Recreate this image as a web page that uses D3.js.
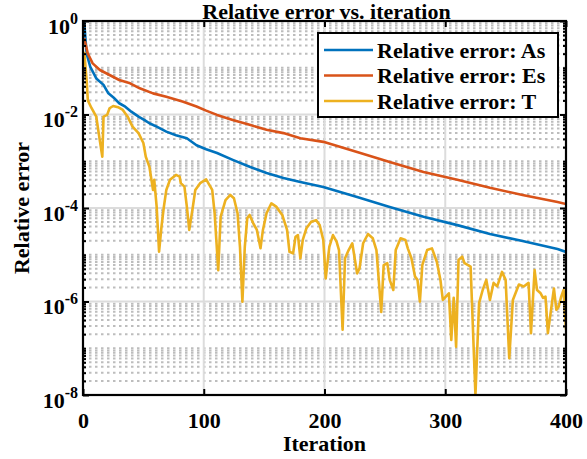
<!DOCTYPE html>
<html>
<head>
<meta charset="utf-8">
<script src="https://cdn.jsdelivr.net/npm/d3@7"></script>
<style>
  body { margin: 0; background: #fff; }
  svg { display: block; }
  text { font-family: "Liberation Serif", "Times New Roman", Times, serif; font-weight: bold; fill: #000; }
</style>
</head>
<body>
<svg id="chart" width="587" height="459"></svg>
<script>
// Relative error of each quantity over the iterations
const iterAs = [1, 3, 6, 11, 17, 21, 26, 30, 35, 40, 46, 51, 55, 61, 69, 77, 86, 94, 102, 111, 124, 138, 152, 166, 180, 199, 227, 254, 282, 310, 337, 364, 393, 400];
const valAs  = [0.95, 0.20, 0.105, 0.059, 0.043, 0.0284, 0.0222, 0.0174, 0.0147, 0.0115, 0.0090, 0.0076, 0.0065, 0.0055, 0.0043, 0.0036, 0.0031, 0.0022, 0.0018, 0.0015, 0.00107, 0.00076, 0.00056, 0.00044, 0.00036, 0.00028, 0.000172, 0.000105, 0.000065, 0.000043, 0.0000278, 0.0000197, 0.0000133, 0.0000115];

const iterEs = [1, 4, 8, 14, 22, 30, 39, 47, 58, 69, 83, 94, 102, 111, 124, 138, 152, 166, 180, 199, 227, 254, 282, 310, 337, 364, 393, 400];
const valEs  = [0.43, 0.20, 0.124, 0.0895, 0.070, 0.0547, 0.0465, 0.0363, 0.0283, 0.024, 0.0188, 0.0148, 0.0121, 0.0098, 0.0076, 0.0060, 0.0047, 0.0040, 0.0031, 0.0026, 0.00158, 0.00096, 0.00059, 0.00040, 0.00027, 0.00019, 0.000134, 0.000122];

const iterT = [1, 3, 4, 7, 11, 13, 16, 17, 20, 22, 25, 29, 33, 37, 41, 46, 50, 52, 55, 58, 59, 61, 63, 65, 67, 69, 72, 77, 80, 81, 84, 86, 88, 91, 93, 97,
  102, 107, 109, 112, 114, 118, 122, 125, 128, 130, 132, 134, 136, 138, 141, 144, 147, 149, 152, 156, 160, 165, 169, 171, 174, 176, 178, 180, 182, 185, 189, 193, 196, 199,
  201, 204, 207, 210, 212, 215, 217, 220, 223, 227, 229, 232, 236, 240, 243, 247, 249, 252, 254, 257, 259, 263, 267, 269, 272, 275, 277, 279, 281, 285, 289, 293, 296, 298,
  303, 305, 307, 309, 311, 314, 316, 321, 325, 328, 331, 334, 337, 340, 343, 347, 350, 353, 356, 361, 365, 369, 371, 374, 376, 379, 381, 383, 385, 390, 392, 394, 396, 398, 400];
const valT = [0.22, 0.055, 0.020, 0.0138, 0.0090, 0.0040, 0.00125, 0.0090, 0.0098, 0.0136, 0.0152, 0.0143, 0.0125, 0.0090, 0.0055, 0.0040, 0.00246, 0.00125, 0.00076, 0.000243,
  0.00040, 0.000107, 0.0000116, 0.000040, 0.000107, 0.000243, 0.00040, 0.00051, 0.00047, 0.00034, 0.000286, 0.000107, 0.000034, 0.000107, 0.000243, 0.00034,
  0.00041, 0.000243, 0.000078, 0.0000047, 0.000065, 0.000148, 0.00019, 0.000162, 0.000077, 0.0000148, 0.00000099, 0.0000148, 0.000060, 0.000071, 0.0000471, 0.000034,
  0.0000138, 0.000034, 0.000077, 0.000126, 0.000107, 0.000071, 0.000034, 0.0000116, 0.0000107, 0.0000243, 0.0000264, 0.0000084, 0.0000207, 0.0000368, 0.000051, 0.000055,
  0.0000433, 0.0000207, 0.0000031, 0.0000148, 0.0000264, 0.000019, 0.0000126, 0.00000025, 0.0000084, 0.0000126, 0.0000176, 0.000004, 0.0000051, 0.0000176, 0.0000278,
  0.0000225, 0.0000126, 0.0000006, 0.000006, 0.0000066, 0.0000029, 0.00000176, 0.0000126, 0.0000225, 0.0000207, 0.0000137, 0.0000084, 0.0000034, 0.0000029, 0.00000099,
  0.000006, 0.0000126, 0.0000137, 0.0000071, 0.0000029, 0.00000108, 0.0000015, 0.00000015, 0.0000012, 0.000000108, 0.0000077, 0.0000091, 0.0000066, 0.0000056, 1e-8,
  0.00000092, 0.00000176, 0.0000029, 0.00000108, 0.0000025, 0.0000021, 0.0000043, 0.0000029, 0.000000061, 0.00000108, 0.0000023, 0.0000021, 0.0000025, 0.00000021,
  0.0000047, 0.00000176, 0.0000015, 0.0000012, 0.00000127, 0.00000021, 0.0000019, 0.00000066, 0.00000078, 0.00000127, 0.00000176, 0.00000025];

const seriesNames = ["Relative error: As", "Relative error: Es", "Relative error: T"];
const seriesColors = ["#0072BD", "#D95319", "#EDB120"];

const xTicks = [0, 100, 200, 300, 400];
const yTickExponents = [0, -2, -4, -6, -8];

const titleText = "Relative error vs. iteration";
const xLabelText = "Iteration";
const yLabelText = "Relative error";

// ---- layout ----
const svg = d3.select("#chart");
const L = 83, R = 566, T = 21, B = 395;
const FS = 22;

const x = d3.scaleLinear().domain([0, 400]).range([L, R]);
const y = d3.scaleLog().domain([1e-8, 1]).range([B, T]);

const yMajor = yTickExponents.map(e => Math.pow(10, e));
const yMinor = [];
for (let e = -8; e < 0; e++) {
  for (let k = 1; k <= 9; k++) {
    const v = k * Math.pow(10, e);
    if (!(k === 1 && yTickExponents.includes(e))) yMinor.push(v);
  }
}

// ---- grid ----
const grid = svg.append("g");
grid.selectAll(".ymin").data(yMinor).join("line")
  .attr("x1", L).attr("x2", R)
  .attr("y1", d => y(d)).attr("y2", d => y(d))
  .attr("stroke", "#bdbdbd").attr("stroke-width", 2)
  .attr("stroke-dasharray", "2.5,3.5");
grid.selectAll(".xmaj").data(xTicks.slice(1, -1)).join("line")
  .attr("x1", d => x(d)).attr("x2", d => x(d))
  .attr("y1", T).attr("y2", B)
  .attr("stroke", "#dcdcdc").attr("stroke-width", 2);
grid.selectAll(".ymaj").data(yMajor.slice(1, -1)).join("line")
  .attr("x1", L).attr("x2", R)
  .attr("y1", d => y(d)).attr("y2", d => y(d))
  .attr("stroke", "#dcdcdc").attr("stroke-width", 2);

// ---- data lines ----
svg.append("clipPath").attr("id", "plotClip")
  .append("rect").attr("x", L).attr("y", T - 1).attr("width", R - L).attr("height", B - T + 2);

const line = d3.line().x(d => x(d[0])).y(d => y(d[1]));
const series = [
  d3.zip(iterAs, valAs),
  d3.zip(iterEs, valEs),
  d3.zip(iterT, valT)
];
const lines = svg.append("g").attr("clip-path", "url(#plotClip)");
series.forEach((s, i) => {
  lines.append("path").datum(s)
    .attr("d", line)
    .attr("fill", "none")
    .attr("stroke", seriesColors[i])
    .attr("stroke-width", 2.6)
    .attr("stroke-linejoin", "round");
});

// ---- axes ----
function styleAxis(g) {
  g.select(".domain").remove();
  g.selectAll(".tick line").attr("stroke", "#000").attr("stroke-width", 2);
}

// bottom with labels
const gx = svg.append("g").attr("transform", `translate(0,${B})`)
  .call(d3.axisBottom(x).tickValues(xTicks).tickSize(-6).tickFormat(d3.format("d")));
styleAxis(gx);
gx.selectAll(".tick text")
  .attr("y", 33).attr("dy", null)
  .style("font-size", FS + "px");

// top
const gxTop = svg.append("g").attr("transform", `translate(0,${T})`)
  .call(d3.axisTop(x).tickValues(xTicks).tickSize(-6).tickFormat(""));
styleAxis(gxTop);

// left major with 10^n labels
const gy = svg.append("g").attr("transform", `translate(${L},0)`)
  .call(d3.axisLeft(y).tickValues(yMajor).tickSize(-6));
styleAxis(gy);
gy.selectAll(".tick text").each(function(d) {
  const t = d3.select(this);
  const e = Math.round(Math.log10(d));
  t.text(null).attr("x", -5).attr("dy", null).attr("y", 12)
    .attr("text-anchor", "end").style("font-size", FS + "px");
  t.append("tspan").text("10");
  t.append("tspan").attr("dy", -10).style("font-size", "16px").text(String(e));
});

// left minor
const gyMin = svg.append("g").attr("transform", `translate(${L},0)`)
  .call(d3.axisLeft(y).tickValues(yMinor).tickSize(-3).tickFormat(""));
styleAxis(gyMin);

// right major + minor
const gyR = svg.append("g").attr("transform", `translate(${R},0)`)
  .call(d3.axisRight(y).tickValues(yMajor).tickSize(-6).tickFormat(""));
styleAxis(gyR);
const gyRMin = svg.append("g").attr("transform", `translate(${R},0)`)
  .call(d3.axisRight(y).tickValues(yMinor).tickSize(-3).tickFormat(""));
styleAxis(gyRMin);

// box
svg.append("rect")
  .attr("x", L).attr("y", T).attr("width", R - L).attr("height", B - T)
  .attr("fill", "none").attr("stroke", "#000").attr("stroke-width", 2.2);

// ---- titles ----
svg.append("text").attr("x", (L + R) / 2 + 2).attr("y", 19)
  .attr("text-anchor", "middle").style("font-size", FS + "px").text(titleText);
svg.append("text").attr("x", (L + R) / 2).attr("y", 451)
  .attr("text-anchor", "middle").style("font-size", FS + "px").text(xLabelText);
svg.append("text")
  .attr("transform", `translate(29,${(T + B) / 2}) rotate(-90)`)
  .attr("text-anchor", "middle").style("font-size", FS + "px").text(yLabelText);

// ---- legend ----
const lg = svg.append("g");
lg.append("rect").attr("x", 318).attr("y", 33).attr("width", 240).attr("height", 84)
  .attr("fill", "#fff").attr("stroke", "#000").attr("stroke-width", 2);
seriesNames.forEach((name, i) => {
  const cy = 50 + i * 25.5;
  lg.append("line").attr("x1", 324).attr("x2", 373).attr("y1", cy).attr("y2", cy)
    .attr("stroke", seriesColors[i]).attr("stroke-width", 2.6);
  lg.append("text").attr("x", 377).attr("y", cy + 7.5)
    .style("font-size", FS + "px").text(name);
});
</script>
</body>
</html>
